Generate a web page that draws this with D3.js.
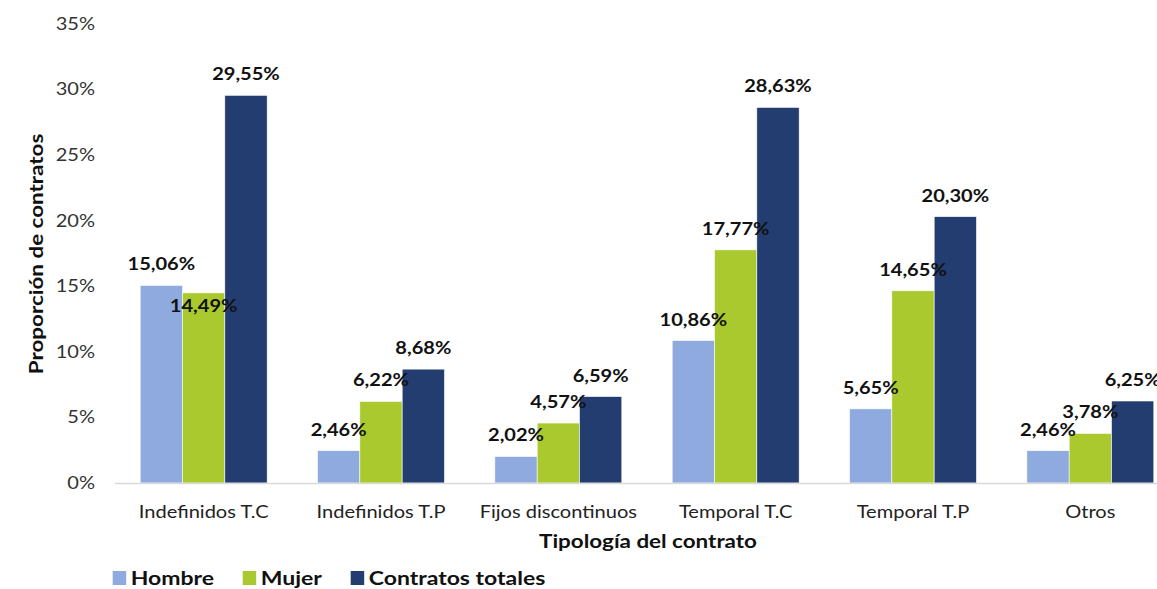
<!DOCTYPE html>
<html>
<head>
<meta charset="utf-8">
<script src="https://cdn.jsdelivr.net/npm/d3@7"></script>
<style>
  body { margin: 0; background: #fff; }
  svg { display: block; font-family: Lato, "Open Sans", sans-serif; }
</style>
</head>
<body>
<div id="svganchor"></div>
<script>
let width = 1157;
let height = 589;

// Data
let categories = ["Indefinidos T.C", "Indefinidos T.P", "Fijos discontinuos", "Temporal T.C", "Temporal T.P", "Otros"];
let series = ["Hombre", "Mujer", "Contratos totales"];
let hombre = [15.06, 2.46, 2.02, 10.86, 5.65, 2.46];
let mujer = [14.49, 6.22, 4.57, 17.77, 14.65, 3.78];
let totales = [29.55, 8.68, 6.59, 28.63, 20.30, 6.25];
let yTicks = [0, 5, 10, 15, 20, 25, 30, 35];

let colors = d3.scaleOrdinal()
    .domain(series)
    .range(["#8eaadf", "#a9c92e", "#233d70"]);

// one label in the original sits lower than the others
let labelNudge = {"Indefinidos T.C|Mujer": 34};

// the original text runs wider than Lato does here
let stretch = 1.18;
let place = (x, y, rot) => "translate(" + x + "," + y + ")" + (rot ? " rotate(" + rot + ")" : "") + " scale(" + stretch + ",1)";

let rows = [];
categories.forEach(function (c, i) {
    rows.push({cat: c, key: "Hombre", value: hombre[i]});
    rows.push({cat: c, key: "Mujer", value: mujer[i]});
    rows.push({cat: c, key: "Contratos totales", value: totales[i]});
});

let svg = d3.select("#svganchor")
    .append("svg")
    .attr("width", width)
    .attr("height", height);

let x0 = d3.scaleBand()
    .domain(categories)
    .range([115, 1179])
    .paddingInner(0.284)
    .paddingOuter(0.142);

let x1 = d3.scaleBand()
    .domain(series)
    .range([0, x0.bandwidth()]);

let yScale = d3.scaleLinear()
    .domain([0, 35])
    .range([483, 23.8]);

let fmt = function (v) { return d3.format(".2f")(v).replace(".", ",") + "%"; };

// y tick labels (no gridlines in the original)
svg.append("g")
    .selectAll("text")
    .data(yTicks)
    .join("text")
    .attr("transform", d => place(95, yScale(d)))
    .attr("dy", "0.35em")
    .attr("text-anchor", "end")
    .attr("font-size", 17)
    .attr("fill", "#333")
    .text(d => d + "%");

// bars
svg.append("g")
    .selectAll("rect")
    .data(rows)
    .join("rect")
    .attr("x", d => x0(d.cat) + x1(d.key))
    .attr("y", d => yScale(d.value))
    .attr("width", x1.bandwidth())
    .attr("height", d => yScale(0) - yScale(d.value))
    .attr("fill", d => colors(d.key))
    .attr("stroke", "#fff")
    .attr("stroke-width", 0.6);

// baseline
svg.append("line")
    .attr("x1", 115)
    .attr("x2", width)
    .attr("y1", yScale(0) + 0.5)
    .attr("y2", yScale(0) + 0.5)
    .attr("stroke", "#d9d9d9")
    .attr("stroke-width", 1.5);

// value labels
svg.append("g")
    .selectAll("text")
    .data(rows)
    .join("text")
    .attr("transform", d => place(x0(d.cat) + x1(d.key) + x1.bandwidth() / 2,
        yScale(d.value) - 15 + (labelNudge[d.cat + "|" + d.key] || 0)))
    .attr("text-anchor", "middle")
    .attr("font-size", 17)
    .attr("font-weight", "bold")
    .attr("fill", "#111")
    .text(d => fmt(d.value));

// category labels
svg.append("g")
    .selectAll("text")
    .data(categories)
    .join("text")
    .attr("transform", d => place(x0(d) + x0.bandwidth() / 2, 518))
    .attr("text-anchor", "middle")
    .attr("font-size", 17)
    .attr("fill", "#222")
    .text(d => d);

// axis titles
svg.append("text")
    .attr("transform", place(648, 548))
    .attr("text-anchor", "middle")
    .attr("font-size", 19)
    .attr("font-weight", "bold")
    .attr("fill", "#111")
    .text("Tipología del contrato");

svg.append("text")
    .attr("transform", place(42.5, 254, -90))
    .attr("text-anchor", "middle")
    .attr("font-size", 19)
    .attr("font-weight", "bold")
    .attr("fill", "#111")
    .text("Proporción de contratos");

// legend
let legendX = [112.7, 242.7, 350.7];
let legend = svg.append("g")
    .selectAll("g")
    .data(series)
    .join("g")
    .attr("transform", (d, i) => "translate(" + legendX[i] + ",571)");

legend.append("rect")
    .attr("width", 13.5)
    .attr("height", 14)
    .attr("fill", d => colors(d));

legend.append("text")
    .attr("transform", place(18, 14))
    .attr("font-size", 19.5)
    .attr("font-weight", "bold")
    .attr("fill", "#111")
    .text(d => d);
</script>
</body>
</html>
